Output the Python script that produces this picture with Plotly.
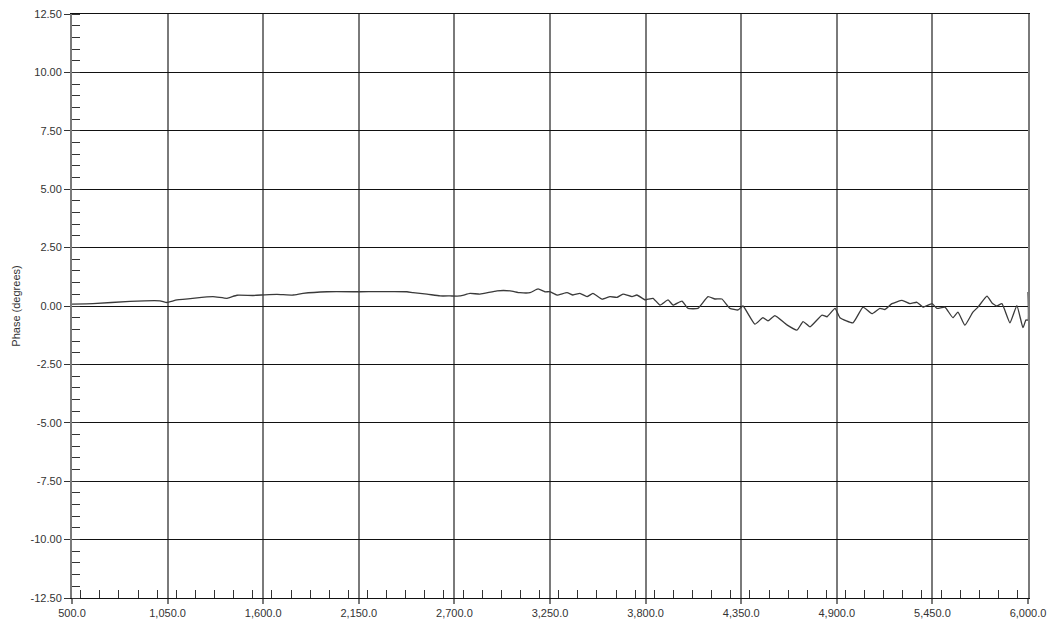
import plotly.graph_objects as go

freq = [500, 620, 834, 1006, 1046, 1104, 1311, 1392, 1449, 1541, 1610, 1679, 1771, 1829,
        1967, 2157, 2427, 2462, 2542, 2617, 2675, 2732, 2790, 2847, 2945, 3020, 3077, 3135,
        3181, 3221, 3250, 3290, 3348, 3382, 3422, 3463, 3497, 3549, 3595, 3635, 3670, 3722,
        3750, 3797, 3814, 3843, 3883, 3929, 3958, 4009, 4044, 4101, 4159, 4199, 4239, 4285,
        4332, 4360, 4429, 4475, 4504, 4544, 4613, 4671, 4706, 4746, 4815, 4844, 4890, 4918,
        4993, 5051, 5102, 5148, 5177, 5217, 5275, 5321, 5361, 5396, 5448, 5476, 5522, 5568,
        5597, 5637, 5683, 5712, 5764, 5793, 5821, 5850, 5896, 5936, 5971, 5988, 6000, 6000]
phase = [0.08, 0.10, 0.20, 0.22, 0.15, 0.26, 0.40, 0.33, 0.46, 0.45, 0.48, 0.50, 0.47, 0.54,
         0.61, 0.61, 0.61, 0.57, 0.51, 0.43, 0.43, 0.43, 0.54, 0.51, 0.65, 0.65, 0.57, 0.57,
         0.73, 0.61, 0.61, 0.47, 0.57, 0.47, 0.54, 0.40, 0.54, 0.29, 0.40, 0.37, 0.51, 0.40,
         0.47, 0.26, 0.29, 0.33, 0.04, 0.26, 0.04, 0.21, -0.10, -0.10, 0.40, 0.30, 0.30, -0.10,
         -0.17, 0.00, -0.78, -0.50, -0.64, -0.41, -0.81, -1.03, -0.67, -0.89, -0.39, -0.46, -0.10, -0.50,
         -0.72, -0.05, -0.33, -0.10, -0.15, 0.10, 0.24, 0.10, 0.16, -0.05, 0.10, -0.10, -0.05, -0.50,
         -0.26, -0.82, -0.26, -0.05, 0.42, 0.13, 0.00, 0.10, -0.72, 0.02, -0.93, -0.60, -0.60, 0.60]

x_ticks = [500 + 550 * i for i in range(11)]
x_labels = ["500.0", "1,050.0", "1,600.0", "2,150.0", "2,700.0", "3,250.0",
            "3,800.0", "4,350.0", "4,900.0", "5,450.0", "6,000.0"]
y_ticks = [-12.5 + 2.5 * i for i in range(11)]
y_labels = ["-12.50", "-10.00", "-7.50", "-5.00", "-2.50", "0.00",
            "2.50", "5.00", "7.50", "10.00", "12.50"]

fig = go.Figure()
fig.add_trace(go.Scatter(x=freq, y=phase, mode="lines",
                         line=dict(color="#3a3a3a", width=1.3, shape="spline", smoothing=0.4),
                         showlegend=False, hoverinfo="skip"))

font = dict(family="Liberation Sans, Arial, sans-serif", size=11, color="#333333")

fig.update_layout(
    width=1051, height=625,
    margin=dict(l=72, r=23, t=14, b=27),
    paper_bgcolor="white", plot_bgcolor="white",
    font=font,
    xaxis=dict(
        range=[500, 6000], tickvals=x_ticks, ticktext=x_labels, automargin=False,
        showgrid=True, gridcolor="#7a7a7a", gridwidth=2,
        showline=True, linecolor="#111111", linewidth=1, mirror=True,
        ticks="outside", ticklen=5, tickcolor="#7a7a7a", tickwidth=2,
        zeroline=False, tickfont=font,
        minor=dict(dtick=110, ticks="inside", ticklen=8, tickcolor="#333333",
                   tickwidth=1, showgrid=False),
    ),
    yaxis=dict(
        range=[-12.5, 12.5], tickvals=y_ticks, ticktext=y_labels, automargin=False,
        showgrid=True, gridcolor="#111111", gridwidth=1,
        showline=True, linecolor="#7a7a7a", linewidth=2, mirror=True,
        ticks="outside", ticklen=6, tickcolor="#333333", tickwidth=1,
        zeroline=True, zerolinecolor="#111111", zerolinewidth=1,
        tickfont=font,
        title=dict(text="Phase (degrees)", font=font, standoff=8),
        minor=dict(dtick=0.5, ticks="inside", ticklen=8, tickcolor="#333333",
                   tickwidth=1, showgrid=False),
    ),
)

fig.write_html("out.html")
